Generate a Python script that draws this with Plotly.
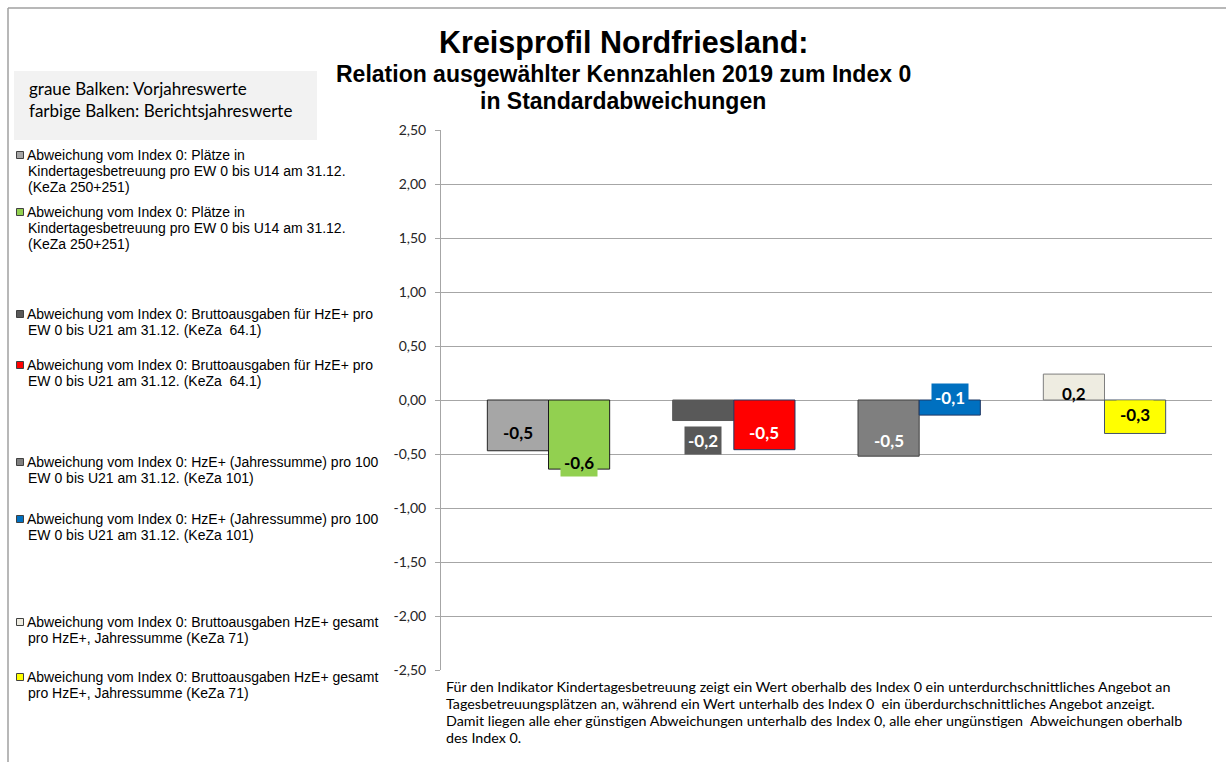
import plotly.graph_objects as go

# Indicators (one group of bars per indicator), wrapped as shown in the legend
indicator_lines = [
    ["Abweichung vom Index 0: Plätze in",
     "Kindertagesbetreuung pro EW 0 bis U14 am 31.12.",
     "(KeZa 250+251)"],
    ["Abweichung vom Index 0: Bruttoausgaben für HzE+ pro",
     "EW 0 bis U21 am 31.12. (KeZa  64.1)"],
    ["Abweichung vom Index 0: HzE+ (Jahressumme) pro 100",
     "EW 0 bis U21 am 31.12. (KeZa 101)"],
    ["Abweichung vom Index 0: Bruttoausgaben HzE+ gesamt",
     "pro HzE+, Jahressumme (KeZa 71)"],
]

# Deviation from index 0 in standard deviations
prev_values = [-0.47, -0.19, -0.52, 0.24]   # Vorjahr (grey bars)
curr_values = [-0.64, -0.46, -0.14, -0.31]  # Berichtsjahr (coloured bars)

y_ticks = [2.5, 2.0, 1.5, 1.0, 0.5, 0.0, -0.5, -1.0, -1.5, -2.0, -2.5]

# Styling
prev_colors = ["#A6A6A6", "#595959", "#7F7F7F", "#EEECE1"]
prev_edges = ["#262626", "#595959", "#404040", "#7F7F7F"]
curr_colors = ["#92D050", "#FF0000", "#0070C0", "#FFFF00"]
curr_edges = ["#1A1A1A", "#1F3864", "#1F3864", "#44546A"]
prev_label_font = ["black", "white", "white", "black"]
curr_label_font = ["black", "white", "white", "black"]
prev_label_bg = [None, "#595959", None, None]
curr_label_bg = ["#92D050", None, "#0070C0", "#FFFF00"]
# label centre heights (pixels on the page)
prev_label_px = [432, 440, 440, 393]
curr_label_px = [462, 432, 397, 414]
# first-line heights of the legend entries (pixels on the page)
legend_px = [155, 212, 314, 365, 462, 519, 622, 677]

W, H = 1226, 762
PL, PR, PT, PB = 441, 1212, 130, 670
BAR_W = 0.33


def px(x):
    return (x - PL) / (PR - PL)


def py(y):
    return (PB - y) / (PB - PT)


def data_y(y):
    return 2.5 - (y - PT) / (PB - PT) * 5.0


def fmt(v):
    return f"{v:.1f}".replace(".", ",")


xs = list(range(len(prev_values)))

fig = go.Figure()
fig.add_trace(go.Bar(
    x=xs, y=prev_values, width=BAR_W, offset=-BAR_W,
    marker=dict(color=prev_colors, line=dict(color=prev_edges, width=1)),
    name="Vorjahreswerte", hoverinfo="y"))
fig.add_trace(go.Bar(
    x=xs, y=curr_values, width=BAR_W, offset=0,
    marker=dict(color=curr_colors, line=dict(color=curr_edges, width=1)),
    name="Berichtsjahreswerte", hoverinfo="y"))

annotations = []
shapes = []

# Data labels
for i in xs:
    for vals, off, fcol, bg, ypx in (
        (prev_values, -BAR_W / 2, prev_label_font, prev_label_bg, prev_label_px),
        (curr_values, BAR_W / 2, curr_label_font, curr_label_bg, curr_label_px),
    ):
        a = dict(x=i + off, y=data_y(ypx[i]), xref="x", yref="y",
                 text=f"<b>{fmt(vals[i])}</b>", showarrow=False,
                 font=dict(family="Lato", size=17, color=fcol[i]),
                 xanchor="center", yanchor="middle", borderpad=3)
        if bg[i]:
            a["bgcolor"] = bg[i]
        annotations.append(a)

# Titles
for text, ypos, size in (
    ("<b>Kreisprofil Nordfriesland:</b>", 42, 30.5),
    ("<b>Relation ausgewählter Kennzahlen 2019 zum Index 0</b>", 74, 23),
    ("<b>in Standardabweichungen</b>", 101, 23),
):
    annotations.append(dict(x=px(623), y=py(ypos), xref="paper", yref="paper",
                            text=text, showarrow=False, xanchor="center",
                            yanchor="middle",
                            font=dict(family="Liberation Sans", size=size,
                                      color="black")))

# Info box
shapes.append(dict(type="rect", xref="paper", yref="paper",
                   x0=px(14), x1=px(317), y0=py(71), y1=py(140),
                   fillcolor="#F2F2F2", line=dict(width=0), layer="below"))
for text, ypos in (("graue Balken: Vorjahreswerte", 89),
                   ("farbige Balken: Berichtsjahreswerte", 110)):
    annotations.append(dict(x=px(27), y=py(ypos), xref="paper", yref="paper",
                            text=text, showarrow=False, xanchor="left",
                            yanchor="middle",
                            font=dict(family="Lato", size=17, color="black")))

# Legend: grey and coloured entry for each indicator
entries = []
for i, lines in enumerate(indicator_lines):
    entries.append((lines, prev_colors[i]))
    entries.append((lines, curr_colors[i]))
for (lines, col), y0 in zip(entries, legend_px):
    shapes.append(dict(type="rect", xref="paper", yref="paper",
                       x0=px(16.5), x1=px(23.5), y0=py(y0 - 3.5), y1=py(y0 + 3.5),
                       fillcolor=col, line=dict(color="#404040", width=1)))
    for k, line in enumerate(lines):
        annotations.append(dict(x=px(25 if k == 0 else 26), y=py(y0 + 16 * k),
                                xref="paper", yref="paper", text=line,
                                showarrow=False, xanchor="left", yanchor="middle",
                                font=dict(family="Liberation Sans", size=14,
                                          color="black")))

# Explanatory note
note_lines = [
    "Für den Indikator Kindertagesbetreuung zeigt ein Wert oberhalb des Index 0 ein unterdurchschnittliches Angebot an",
    "Tagesbetreuungsplätzen an, während ein Wert unterhalb des Index 0  ein überdurchschnittliches Angebot anzeigt.",
    "Damit liegen alle eher günstigen Abweichungen unterhalb des Index 0, alle eher ungünstigen  Abweichungen oberhalb",
    "des Index 0.",
]
for k, line in enumerate(note_lines):
    annotations.append(dict(x=px(444), y=py(686 + 17 * k), xref="paper",
                            yref="paper", text=line.replace("  ", "&nbsp; "),
                            showarrow=False, xanchor="left", yanchor="middle",
                            font=dict(family="Lato", size=14.3, color="black")))

# Chart frame
shapes.append(dict(type="line", xref="paper", yref="paper",
                   x0=px(8), x1=px(1226), y0=py(8), y1=py(8),
                   line=dict(color="#A0A0A0", width=1.5)))
shapes.append(dict(type="line", xref="paper", yref="paper",
                   x0=px(8), x1=px(8), y0=py(8), y1=py(762),
                   line=dict(color="#A0A0A0", width=1.5)))

fig.update_layout(
    width=W, height=H,
    margin=dict(l=PL, r=W - PR, t=PT, b=H - PB),
    paper_bgcolor="white", plot_bgcolor="white",
    showlegend=False, barmode="overlay",
    annotations=annotations, shapes=shapes,
    xaxis=dict(range=[-0.58, 3.58], showticklabels=False, showgrid=False,
               zeroline=False, showline=False, ticks=""),
    yaxis=dict(range=[-2.5, 2.5], tickvals=y_ticks,
               ticktext=[f"{v:.2f}".replace(".", ",") for v in y_ticks],
               showgrid=True, gridcolor="#A6A6A6", gridwidth=1,
               zeroline=True, zerolinecolor="#A6A6A6", zerolinewidth=1,
               showline=True, linecolor="#A6A6A6", linewidth=1,
               ticks="outside", ticklen=5, tickcolor="#A6A6A6",
               tickfont=dict(family="Lato", size=14, color="#262626"),
               ticklabelstandoff=6),
)

fig.write_html("out.html")
